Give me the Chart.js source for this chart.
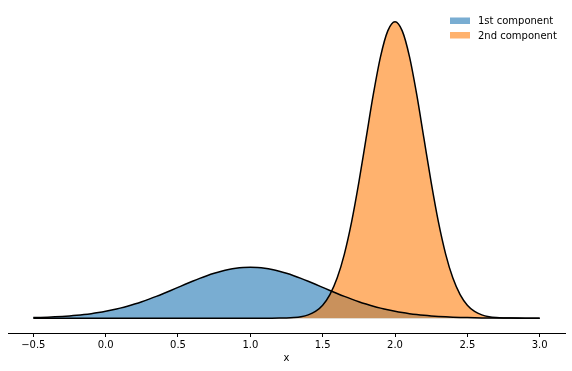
<!DOCTYPE html>
<html>
<head>
<meta charset="utf-8">
<script src="https://cdn.jsdelivr.net/npm/chart.js@4/dist/chart.umd.min.js"></script>
<style>
  body { margin: 0; background: #fff; }
  #wrap { width: 572px; height: 371px; position: relative; }
</style>
</head>
<body>
<div id="wrap"><canvas id="mixChart"></canvas></div>
<script>
// x positions (read every 0.05 along the axis)
const xValues = [
  -0.5, -0.45, -0.4, -0.35, -0.3, -0.25, -0.2, -0.15, -0.1, -0.05,
  0.0, 0.05, 0.1, 0.15, 0.2, 0.25, 0.3, 0.35, 0.4, 0.45,
  0.5, 0.55, 0.6, 0.65, 0.7, 0.75, 0.8, 0.85, 0.9, 0.95,
  1.0, 1.05, 1.1, 1.15, 1.2, 1.25, 1.3, 1.35, 1.4, 1.45,
  1.5, 1.55, 1.6, 1.65, 1.7, 1.75, 1.8, 1.85, 1.9, 1.95,
  2.0, 2.05, 2.1, 2.15, 2.2, 2.25, 2.3, 2.35, 2.4, 2.45,
  2.5, 2.55, 2.6, 2.65, 2.7, 2.75, 2.8, 2.85, 2.9, 2.95,
  3.0
];

// 1st component (weighted density)
const firstComponent = [
  0.0027, 0.0036, 0.0048, 0.0063, 0.0082, 0.0105, 0.0134, 0.0170, 0.0213, 0.0264,
  0.0324, 0.0394, 0.0474, 0.0564, 0.0666, 0.0777, 0.0899, 0.1028, 0.1165, 0.1307,
  0.1452, 0.1597, 0.1738, 0.1874, 0.2000, 0.2113, 0.2210, 0.2289, 0.2347, 0.2382,
  0.2394, 0.2382, 0.2347, 0.2289, 0.2210, 0.2113, 0.2000, 0.1874, 0.1738, 0.1597,
  0.1452, 0.1307, 0.1165, 0.1028, 0.0899, 0.0777, 0.0666, 0.0564, 0.0474, 0.0394,
  0.0324, 0.0264, 0.0213, 0.0170, 0.0134, 0.0105, 0.0082, 0.0063, 0.0048, 0.0036,
  0.0027, 0.0020, 0.0014, 0.0010, 0.0007, 0.0005, 0.0004, 0.0003, 0.0002, 0.0001,
  0.0001
];

// 2nd component (weighted density)
const secondComponent = [
  0, 0, 0, 0, 0, 0, 0, 0, 0, 0,
  0, 0, 0, 0, 0, 0, 0, 0, 0, 0,
  0, 0, 0, 0, 0, 0, 0, 0, 0, 0,
  0.0000, 0.0000, 0.0001, 0.0002, 0.0005, 0.0012, 0.0031, 0.0071, 0.0155, 0.0318,
  0.0614, 0.1111, 0.1890, 0.3020, 0.4533, 0.6393, 0.8469, 1.0540, 1.2322, 1.3533,
  1.3963, 1.3533, 1.2322, 1.0540, 0.8469, 0.6393, 0.4533, 0.3020, 0.1890, 0.1111,
  0.0614, 0.0318, 0.0155, 0.0071, 0.0031, 0.0012, 0.0005, 0.0002, 0.0001, 0.0000,
  0.0000
];

const tickValues = [-0.5, 0.0, 0.5, 1.0, 1.5, 2.0, 2.5, 3.0];
const seriesNames = ['1st component', '2nd component'];
const fillColors = ['rgba(31, 119, 180, 0.6)', 'rgba(255, 127, 14, 0.6)'];

const toPoints = ys => xValues.map((x, i) => ({ x: x, y: ys[i] }));

// simple legend in the upper right corner, like matplotlib's
const cornerLegend = {
    id: 'cornerLegend',
    afterDraw(chart) {
        const ctx = chart.ctx;
        ctx.save();
        ctx.font = '10px "DejaVu Sans"';
        ctx.textBaseline = 'alphabetic';
        ctx.textAlign = 'left';
        seriesNames.forEach((name, i) => {
            const y = 17.5 + i * 14.5;
            ctx.fillStyle = fillColors[i];
            ctx.fillRect(450, y, 20, 6.5);
            ctx.fillStyle = '#000';
            ctx.fillText(name, 478, y + 6.5);
        });
        ctx.restore();
    }
};

const ctx = document.getElementById('mixChart').getContext('2d');
const mixChart = new Chart(ctx, {
    type: 'line',
    data: {
        datasets: [{
            label: seriesNames[0],
            data: toPoints(firstComponent),
            backgroundColor: fillColors[0],
            borderColor: '#000',
            borderWidth: 1.5,
            pointRadius: 0,
            fill: 'origin',
            cubicInterpolationMode: 'monotone',
            order: 1
        }, {
            label: seriesNames[1],
            data: toPoints(secondComponent),
            backgroundColor: fillColors[1],
            borderColor: '#000',
            borderWidth: 1.5,
            pointRadius: 0,
            fill: 'origin',
            cubicInterpolationMode: 'monotone',
            order: 0
        }]
    },
    options: {
        responsive: true,
        maintainAspectRatio: false,
        animation: false,
        layout: {
            padding: { left: 8, right: 7, top: 7, bottom: 0 }
        },
        scales: {
            x: {
                type: 'linear',
                min: -0.675,
                max: 3.175,
                afterBuildTicks: function(scale) {
                    scale.ticks = tickValues.map(v => ({ value: v }));
                },
                afterFit: function(scale) {
                    scale.height = 38;
                },
                grid: {
                    display: true,
                    drawOnChartArea: false,
                    drawTicks: true,
                    tickLength: 4,
                    color: '#000',
                    lineWidth: 1
                },
                border: {
                    display: true,
                    color: '#000',
                    width: 1
                },
                ticks: {
                    autoSkip: false,
                    maxRotation: 0,
                    padding: 2,
                    color: '#000',
                    font: { family: '"DejaVu Sans"', size: 10 },
                    callback: function(value) {
                        return value.toFixed(1).replace('-', '\u2212');
                    }
                },
                title: {
                    display: true,
                    text: 'x',
                    color: '#000',
                    font: { family: '"DejaVu Sans"', size: 10 },
                    padding: { top: 4, bottom: 7 }
                }
            },
            y: {
                type: 'linear',
                display: false,
                min: -0.0698,
                max: 1.4658
            }
        },
        plugins: {
            legend: { display: false },
            tooltip: { enabled: false },
            filler: { drawTime: 'beforeDatasetsDraw' }
        }
    },
    plugins: [cornerLegend]
});
</script>
</body>
</html>
